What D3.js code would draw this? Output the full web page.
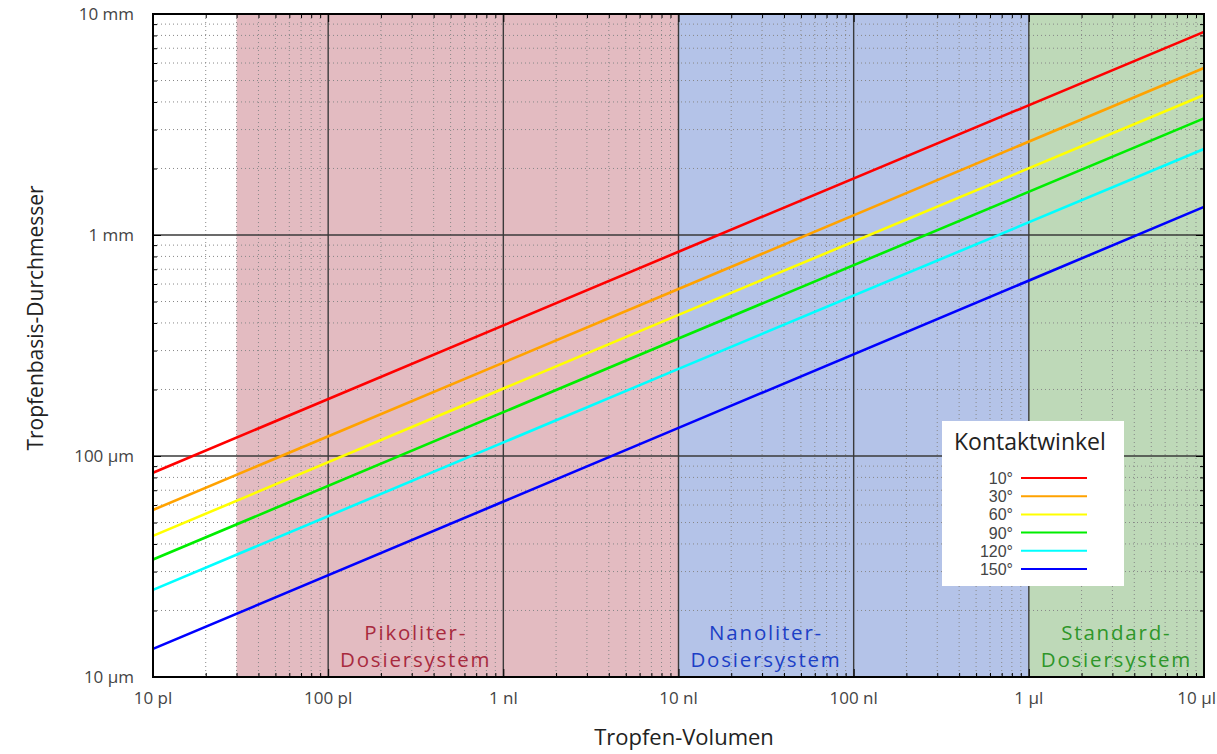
<html>
<head>
<meta charset="utf-8">
<style>
body { margin: 0px; background: #fff; }
text { font-family: "Open Sans", "Noto Sans", sans-serif; }
</style>
</head>
<body>
<div id="elm"></div>
<script src="https://cdn.jsdelivr.net/npm/d3@7"></script>
<script>
'use strict';

// volumes in picoliters, diameters in micrometers
var xTicks = [10, 100, 1e3, 1e4, 1e5, 1e6, 1e7];
var xTickLabels = ['10 pl', '100 pl', '1 nl', '10 nl', '100 nl', '1 µl', '10 µl'];
var yTicks = [10, 100, 1000, 10000];
var yTickLabels = ['10 µm', '100 µm', '1 mm', '10 mm'];

var angles = ['10°', '30°', '60°', '90°', '120°', '150°'];
var colors = ['#ff0000', '#ffa200', '#ffff00', '#00ee00', '#00ffff', '#0000ff'];
var volumes = [10, 1e4, 1e7];
var dRed = [84, 840, 8300];
var dOrange = [57, 570, 5700];
var dYellow = [43.5, 435, 4300];
var dGreen = [34, 340, 3370];
var dCyan = [24.8, 248, 2450];
var dBlue = [13.4, 134, 1340];
var diameters = [dRed, dOrange, dYellow, dGreen, dCyan, dBlue];

var regions = [
  { from: 30, to: 1e4, fill: '#e3bbc1', text: ['Pikoliter-', 'Dosiersystem'], color: '#a82a3e', at: 316 },
  { from: 1e4, to: 1e6, fill: '#b4c3e8', text: ['Nanoliter-', 'Dosiersystem'], color: '#1c3fc6', at: 31600 },
  { from: 1e6, to: 1e7, fill: '#bed9b8', text: ['Standard-', 'Dosiersystem'], color: '#2e962a', at: 3.16e6 }
];

var W = 1217, H = 754;
var m = { left: 153, right: 13, top: 14, bottom: 77 };

var svg = d3.select('#elm').append('svg').attr('width', W).attr('height', H);

var x = d3.scaleLog().domain([10, 1e7]).range([m.left, W - m.right]);
var y = d3.scaleLog().domain([10, 10000]).range([H - m.bottom, m.top]);

// region backgrounds
svg.selectAll('rect.region').data(regions).enter().append('rect')
  .attr('x', d => x(d.from)).attr('width', d => x(d.to) - x(d.from))
  .attr('y', m.top).attr('height', y(10) - m.top)
  .attr('fill', d => d.fill);

// minor grid
var minorX = [], minorY = [];
for (var e = 1; e < 7; e++) for (var k = 2; k < 10; k++) minorX.push(k * Math.pow(10, e));
for (var e2 = 1; e2 < 4; e2++) for (var k2 = 2; k2 < 10; k2++) minorY.push(k2 * Math.pow(10, e2));

var grid = svg.append('g');
grid.selectAll('line.mx').data(minorX).enter().append('line')
  .attr('x1', d => x(d)).attr('x2', d => x(d)).attr('y1', m.top).attr('y2', y(10))
  .attr('stroke', '#888').attr('stroke-width', 1).attr('stroke-dasharray', '1,3');
grid.selectAll('line.my').data(minorY).enter().append('line')
  .attr('y1', d => y(d)).attr('y2', d => y(d)).attr('x1', m.left).attr('x2', W - m.right)
  .attr('stroke', '#888').attr('stroke-width', 1).attr('stroke-dasharray', '1,3');
grid.selectAll('line.Mx').data(xTicks.slice(1, -1)).enter().append('line')
  .attr('x1', d => x(d)).attr('x2', d => x(d)).attr('y1', m.top).attr('y2', y(10))
  .attr('stroke', '#3a3a3a').attr('stroke-width', 1.4);
grid.selectAll('line.My').data(yTicks.slice(1, -1)).enter().append('line')
  .attr('y1', d => y(d)).attr('y2', d => y(d)).attr('x1', m.left).attr('x2', W - m.right)
  .attr('stroke', '#3a3a3a').attr('stroke-width', 1.4);

// region labels
regions.forEach(function (r) {
  var g = svg.append('g').attr('fill', r.color)
    .style('font-family', '"Liberation Sans", sans-serif')
    .style('font-size', '20.5px').style('letter-spacing', '1.8px');
  g.append('text').attr('text-anchor', 'middle').attr('x', x(r.at)).attr('y', 640).text(r.text[0]);
  g.append('text').attr('text-anchor', 'middle').attr('x', x(r.at)).attr('y', 667).text(r.text[1]);
});

// curves
var line = d3.line().x(d => x(d[0])).y(d => y(d[1]));
diameters.forEach(function (ds, i) {
  svg.append('path').datum(volumes.map((v, j) => [v, ds[j]]))
    .attr('d', line).attr('fill', 'none').attr('stroke', colors[i]).attr('stroke-width', 2.6);
});

// axes with inward ticks
function tickAxis(axisFn, scale, g, majors, minors) {
  g.call(axisFn(scale).tickValues(majors).tickSize(-8).tickFormat(''));
  g.append('g').call(axisFn(scale).tickValues(minors).tickSize(-4).tickFormat(''));
  g.selectAll('.domain').remove();
  g.selectAll('line').attr('stroke', '#000');
}
tickAxis(d3.axisBottom, x, svg.append('g').attr('transform', 'translate(0,' + y(10) + ')'), xTicks, minorX);
tickAxis(d3.axisTop, x, svg.append('g').attr('transform', 'translate(0,' + m.top + ')'), xTicks, minorX);
tickAxis(d3.axisLeft, y, svg.append('g').attr('transform', 'translate(' + m.left + ',0)'), yTicks, minorY);
tickAxis(d3.axisRight, y, svg.append('g').attr('transform', 'translate(' + (W - m.right) + ',0)'), yTicks, minorY);

svg.append('rect').attr('x', m.left).attr('y', m.top)
  .attr('width', W - m.right - m.left).attr('height', y(10) - m.top)
  .attr('fill', 'none').attr('stroke', '#000').attr('stroke-width', 2);

// tick labels
svg.selectAll('text.xl').data(xTicks).enter().append('text')
  .attr('x', (d, i) => i === xTicks.length - 1 ? W - 1 : x(d)).attr('y', 704)
  .attr('text-anchor', (d, i) => i === xTicks.length - 1 ? 'end' : 'middle')
  .attr('fill', '#444').style('font-size', '17px')
  .text((d, i) => xTickLabels[i]);
svg.selectAll('text.yl').data(yTicks).enter().append('text')
  .attr('x', 134).attr('y', d => y(d) + 6).attr('text-anchor', 'end')
  .attr('fill', '#444').style('font-size', '17px')
  .text((d, i) => yTickLabels[i]);

// axis titles
svg.append('text').attr('x', 684).attr('y', 745).attr('text-anchor', 'middle')
  .attr('fill', '#222').style('font-size', '22px').text('Tropfen-Volumen');
svg.append('text').attr('transform', 'translate(43,318) rotate(-90)').attr('text-anchor', 'middle')
  .attr('fill', '#222').style('font-size', '21px').text('Tropfenbasis-Durchmesser');

// legend
var lg = svg.append('g').attr('transform', 'translate(942,421)');
lg.append('rect').attr('width', 182).attr('height', 165).attr('fill', '#fff');
lg.append('text').attr('x', 12).attr('y', 29).attr('fill', '#222').style('font-size', '23px').text('Kontaktwinkel');
angles.forEach(function (a, i) {
  var yy = 57 + i * 18.2;
  lg.append('text').attr('x', 71).attr('y', yy + 6).attr('text-anchor', 'end')
    .attr('fill', '#444').style('font-family', '"Liberation Sans", sans-serif')
    .style('font-size', '16px').text(a);
  lg.append('line').attr('x1', 79).attr('x2', 145).attr('y1', yy).attr('y2', yy)
    .attr('stroke', colors[i]).attr('stroke-width', 2);
});
</script>
</body>
</html>
